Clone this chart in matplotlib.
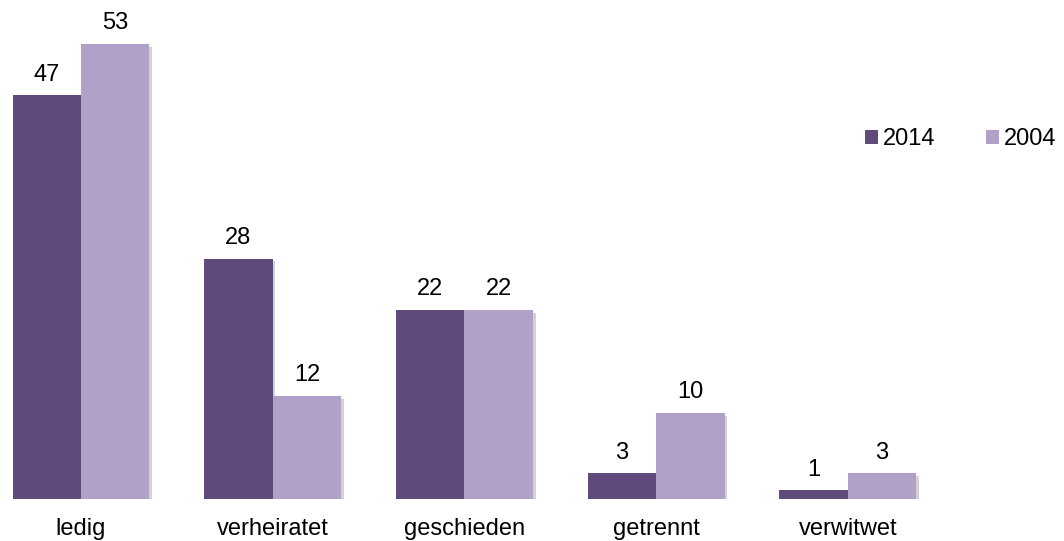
import matplotlib.pyplot as plt
import matplotlib.patheffects as pe
from matplotlib.patches import Patch
import numpy as np

plt.rcParams['font.family'] = ['Liberation Sans', 'DejaVu Sans']

categories = ["ledig", "verheiratet", "geschieden", "getrennt", "verwitwet"]
values_2014 = [47, 28, 22, 3, 1]
values_2004 = [53, 12, 22, 10, 3]
series = ["2014", "2004"]
colors = ["#604a7b", "#b1a0c7"]

FS = 17

fig = plt.figure(figsize=(10.64, 5.41), dpi=100)
ax = fig.add_axes([0, 42 / 541, 960 / 1064, 489 / 541])

x = np.arange(len(categories))
w = 0.357
shadow = [pe.SimplePatchShadow(offset=(2, -2), shadow_rgbFace="#999999", alpha=0.45), pe.Normal()]

for i, (vals, col) in enumerate(zip([values_2014, values_2004], colors)):
    pos = x + (i - 0.5) * w
    bars = ax.bar(pos, vals, width=w, color=col, zorder=2)
    for b in bars:
        b.set_path_effects(shadow)
    for p, v in zip(pos, vals):
        ax.annotate(str(v), (p, v), xytext=(0, 7), textcoords="offset points",
                    ha="center", va="bottom", fontsize=FS)

ax.set_xlim(-81 / 191.7, (960 - 81) / 191.7)
ax.set_ylim(0, 53 + 34 / 8.6)
ax.set_xticks(x)
ax.set_xticklabels(categories, fontsize=FS)
ax.tick_params(axis="x", length=0, pad=14)
ax.set_yticks([])
for s in ax.spines.values():
    s.set_visible(False)

handles = [Patch(facecolor=c) for c in colors]
fig.legend(handles, series, loc="center left", bbox_to_anchor=(865 / 1064, 1 - 139 / 541),
           ncol=2, frameon=False, fontsize=FS, handlelength=0.55, handleheight=0.55,
           handletextpad=0.2, columnspacing=2.15, borderpad=0, borderaxespad=0)

fig.savefig("out.png", dpi=100)
